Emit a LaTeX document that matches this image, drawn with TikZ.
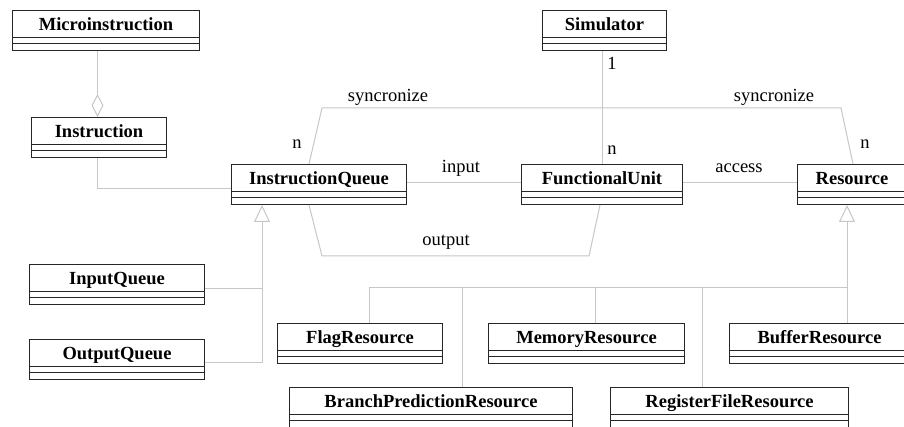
\documentclass[tikz,border=0pt]{standalone}
\usepackage{fontspec}
\setmainfont{Liberation Serif}
\usetikzlibrary{arrows.meta,calc}
\tikzset{
  cls/.style={draw=black!85, line width=1pt, rectangle, inner sep=0pt, minimum height=40pt,
    text height=20pt, text depth=20pt, anchor=north west, font=\fontsize{18.5}{20}\selectfont\bfseries,
    path picture={
      \draw[black!85, line width=1pt] ([yshift=-27.3pt]path picture bounding box.north west) -- ([yshift=-27.3pt]path picture bounding box.north east);
      \draw[black!85, line width=1pt] ([yshift=-33.3pt]path picture bounding box.north west) -- ([yshift=-33.3pt]path picture bounding box.north east);
    }},
  conn/.style={draw=black!22, line width=1pt},
  lbl/.style={inner sep=0pt, font=\fontsize{18.5}{20}\selectfont},
  gen/.style={conn, -{Triangle[open, length=17pt, width=16pt, fill=white]}},
  agg/.style={conn, -{Diamond[open, length=23pt, width=12pt, fill=white]}},
}
\begin{document}
\begin{tikzpicture}[x=1pt, y=-1pt]
\clip (0,0) rectangle (904,427);
\fill[white] (0,0) rectangle (904,427);
% classes
\node[cls, minimum width=187pt] (micro) at (12,10) {Microinstruction};
\node[cls, minimum width=135pt] (instr) at (31,117) {Instruction};
\node[cls, minimum width=124pt] (sim) at (542,10) {Simulator};
\node[cls, minimum width=175pt] (iq) at (231,164) {InstructionQueue};
\node[cls, minimum width=161pt] (fu) at (521,164) {FunctionalUnit};
\node[cls, minimum width=109pt] (res) at (797,164) {Resource};
\node[cls, minimum width=175pt] (inq) at (29,264) {InputQueue};
\node[cls, minimum width=175pt] (outq) at (29,339) {OutputQueue};
\node[cls, minimum width=165pt] (flag) at (277,323) {FlagResource};
\node[cls, minimum width=196pt] (mem) at (488,323) {MemoryResource};
\node[cls, minimum width=180pt] (buf) at (729,323) {BufferResource};
\node[cls, minimum width=283pt] (bpr) at (289,387) {BranchPredictionResource};
\node[cls, minimum width=238pt] (rfr) at (610,387) {RegisterFileResource};
% helper coordinates
\coordinate (aggx) at ($(instr.north)+(-1.5,0)$);
\coordinate (instrdn) at ($(instr.south)+(-2,0)$);
\coordinate (iqin) at ($(iq.west)+(0,4)$);
\coordinate (qj) at ($(iq.south west)+(31,0)$);
\coordinate (inqe) at ($(inq.east)+(0,4)$);
\coordinate (outqe) at ($(outq.east)+(0,3)$);
\coordinate (rj) at ($(res.south west)+(50,0)$);
\coordinate (bus) at (0,288);
\coordinate (flagup) at ($(flag.north west)+(92,0)$);
\coordinate (bprup) at ($(bpr.north west)+(173,0)$);
\coordinate (memup) at ($(mem.north west)+(107,0)$);
\coordinate (rfrup) at ($(rfr.north west)+(92,0)$);
% aggregation
\draw[agg] (aggx |- micro.south) -- (aggx);
% instruction -- instruction queue
\draw[conn] (instrdn) |- (iqin);
% syncronize
\draw[conn] ($(iq.north west)+(78,0)$) -- ($(iq.north west)+(91,-56)$) -- ($(res.north west)+(44,-56)$) -- ($(res.north west)+(56,0)$);
\node[lbl] (s1) at (388,97) {syncronize};
\node[lbl] (s2) at (774,97) {syncronize};
\node[lbl] (n1) at (297,144) {n};
\node[lbl] (n2) at (865,144) {n};
% simulator -- functional unit
\draw[conn] (fu.north |- sim.south) -- (fu.north);
\node[lbl] (one) at (612,63) {1};
\node[lbl] (n3) at (612,150) {n};
% input / access
\draw[conn] ($(iq.east)+(0,-2)$) -- ($(fu.west)+(0,-2)$);
\draw[conn] ($(fu.east)+(0,-2)$) -- ($(res.west)+(0,-2)$);
\node[lbl] (inl) at (461,168) {input};
\node[lbl] (acl) at (739,168) {access};
% output
\draw[conn] ($(iq.south west)+(78,0)$) -- ($(iq.south west)+(91,51)$) -- ($(fu.south west)+(68,51)$) -- ($(fu.south west)+(79,0)$);
\node[lbl] (outl) at (446,242) {output};
% generalization of queues
\draw[gen] (outqe) -| (qj);
\draw[conn] (inqe) -- (inqe -| qj);
% generalization of resources
\draw[gen] (rj |- buf.north) -- (rj);
\draw[conn] (flagup) |- (rj |- bus);
\draw[conn] (bprup) -- (bprup |- bus);
\draw[conn] (memup) -- (memup |- bus);
\draw[conn] (rfrup) -- (rfrup |- bus);
\end{tikzpicture}
\end{document}
